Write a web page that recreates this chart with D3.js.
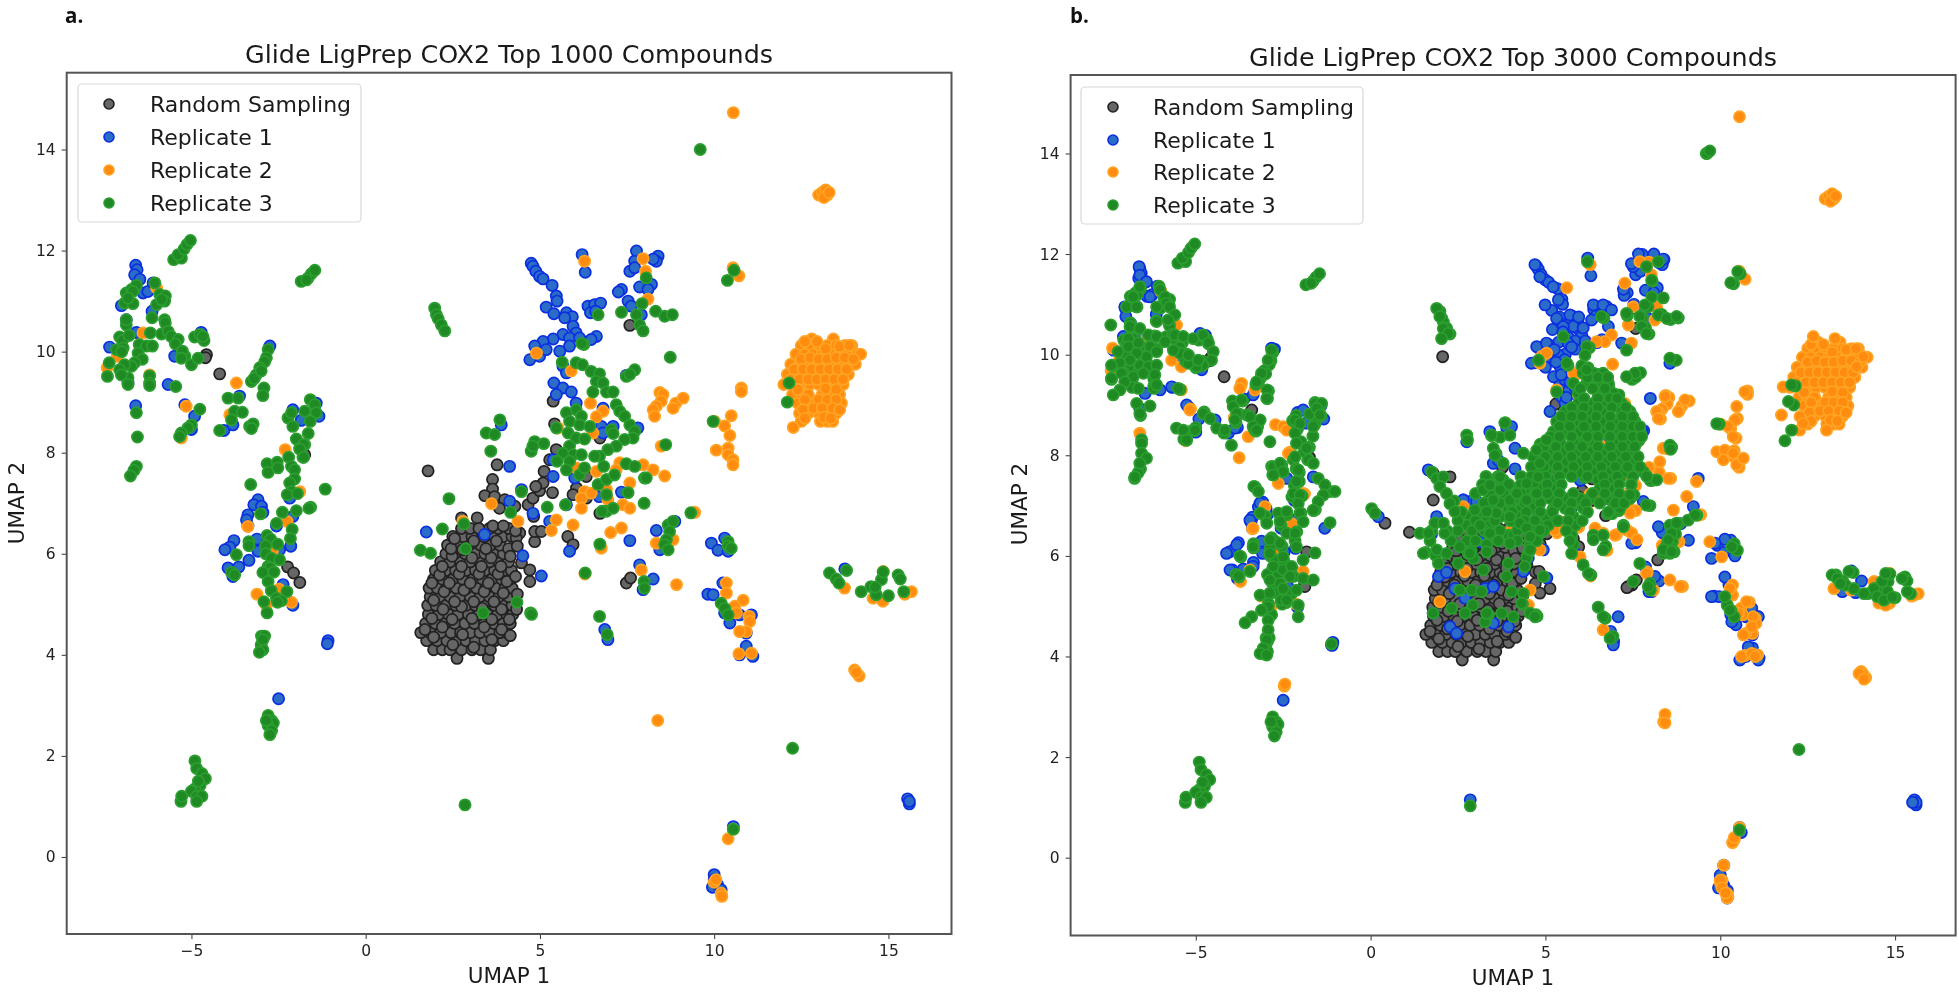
<!DOCTYPE html>
<html><head><meta charset="utf-8">
<script src="https://cdn.jsdelivr.net/npm/d3@7"></script>
<style>html,body{margin:0;background:#fff;overflow:hidden}svg{display:block;filter:blur(.45px)}</style>
</head><body><svg id="c" width="1959" height="996"></svg>
<script>
const seriesNames=["Random Sampling","Replicate 1","Replicate 2","Replicate 3"];
const xTicks=[-5,0,5,10,15];
const yTicks=[0,2,4,6,8,10,12,14];
const titles=["Glide LigPrep COX2 Top 1000 Compounds","Glide LigPrep COX2 Top 3000 Compounds"];
const panelLetters=["a.","b."];

// rows: [umap2, umap1, umap1, ...]
const grayRows=[[3.93,2.62,3.52],[4.1,1.95,2.2,2.42,2.75,3.05,3.3,3.58],[4.28,1.75,2.05,2.33,2.6,2.88,3.15,3.42,3.7,3.95],[4.44,1.58,1.85,2.15,2.45,2.72,3,3.28,3.55,3.85,4.05],[4.62,1.72,2,2.28,2.55,2.85,3.12,3.4,3.68,3.95,4.15],[4.8,1.8,2.1,2.38,2.65,2.95,3.25,3.5,3.78,4.05,4.22],[4.98,1.78,2.02,2.3,2.58,2.88,3.15,3.42,3.7,3.98,4.2],[5.15,1.85,2.12,2.42,2.7,3,3.28,3.55,3.82,4.1],[5.32,1.82,2.05,2.32,2.6,2.9,3.18,3.45,3.75,4,4.2],[5.5,1.95,2.2,2.5,2.78,3.08,3.35,3.62,3.9,4.15],[5.67,2,2.3,2.58,2.88,3.15,3.42,3.7,3.98,4.18],[5.84,2.15,2.42,2.72,3,3.28,3.55,3.82,4.1],[6,2.3,2.55,2.85,3.15,3.42,3.68,3.95],[6.17,2.35,2.65,2.95,3.3,3.58,3.85],[6.34,2.5,2.8,3.05,3.4,3.7,3.95,4.2],[6.5,2.75,3,3.55,3.8,4.1]];
const grayPts=[1.79,7.64,3.77,7.76,3.64,7.47,3.64,7.28,3.42,7.15,3.7,7.13,3.99,7.07,3.84,6.9,4.28,6.94,4.66,6.97,4.8,7.1,4.99,7.25,5.09,7.4,5.12,7.63,4.88,7.33,5.36,7.21,5.28,7.86,5.47,8.06,5.42,8.57,5.38,9.02,4.82,6.74,3.2,6.71,2.75,6.71,4.85,6.24,4.85,6.44,5.04,6.44,4.42,6.41,4.32,6.31,4.47,5.82,4.71,5.68,4.71,5.45,5.8,6.34,5.95,6.18,7.48,5.42,7.6,5.52,7.58,10.52,6.05,7.3,5.95,7.17,6.33,7.53,6.72,6.8,6.33,7.1,6.72,8.29,-2.24,5.74,-2.07,5.62,-1.89,5.43,-4.57,9.94,-4.19,9.56,-4.6,9.88,-1.75,7.96,1.7,4.5,1.95,4.35,2.2,4.55,2.5,4.2,2.78,4.4,3.1,4.15,3.4,4.55,3.62,4.3,3.9,4.5,4.15,4.38,1.9,4.72,2.22,4.9,2.48,4.7,2.75,4.95,3.05,4.72,3.35,4.92,3.62,4.7,3.9,4.9,4.12,4.7,1.95,5.08,2.25,5.25,2.55,5.05,2.82,5.28,3.1,5.05,3.4,5.25,3.68,5.05,3.95,5.22,1.9,5.42,2.12,5.58,2.4,5.42,2.68,5.6,3,5.42,3.25,5.6,3.52,5.42,3.8,5.6,4.05,5.45,2.2,5.75,2.48,5.95,2.75,5.75,3.05,5.92,3.32,5.75,3.6,5.92,3.88,5.75,2.45,6.1,2.78,6.08,3.1,6.25,3.45,6.1,3.75,6.25,4.1,6.1,4.3,6.45,2.55,6.3,3.25,6.5,3.65,6.55,3.95,6.55,4.35,6.15,4.15,5.95,4.3,5.55,4.35,5.2,4.33,4.9];
const grayExtra=[2.06,9.96,0.41,6.65,1.11,6.47,8.21,5.92,7.37,5.39,7.33,5.37,5.13,5.35,4.84,5.26,4.82,5.69,5.3,9.02,2.27,7.57,1.79,7.11,-3.4,8.9,-1.83,6.08,-1.88,5.39];

const bluePts=[4.75,11.75,4.8,11.69,4.88,11.59,4.99,11.49,5.09,11.44,5.35,11.31,5.47,11.1,5.49,11,5.18,10.88,5.4,10.75,5.76,10.77,5.93,10.69,5.71,10.67,5.95,10.5,5.66,10.34,6.04,10.37,5.85,10.27,5.38,10.25,5.09,10.2,4.85,10.11,4.71,9.84,4.99,9.91,5.18,10.04,5.85,10.11,5.57,10.01,6.14,10.27,6.62,10.3,6.47,10.24,6.38,10.9,6.57,10.93,6.74,10.96,6.45,10.77,6.6,10.8,6.21,11.92,6.3,11.57,7.77,11.99,7.72,11.79,7.58,11.59,7.72,11.66,8.39,11.89,8.34,11.79,8.25,11.83,8.2,11.33,7.86,11.28,8.1,11.23,7.34,11.23,7.25,11.18,7.53,11,7.62,10.9,7.91,10.73,5.66,9.71,5.76,9.58,5.4,9.38,5.66,9.28,5.9,9.2,5.47,9.15,6.04,8.98,6.81,8.88,6.76,8.52,7.1,8.52,7.81,8.49,6.81,8.39,5.38,7.86,4.13,7.73,3.89,8.55,4.47,7.27,5.38,7.53,6,7.5,6.7,7.13,7.34,7.22,5.76,6.97,4.13,7.04,4.8,6.8,5.28,6.64,3.41,6.38,1.74,6.43,4.51,5.96,5.04,5.56,5.85,6.05,7.58,6.26,8.34,6.46,8.87,6.64,7.48,9.53,9.92,6.21,10.11,6.07,10.3,6.31,10.4,6.05,7.86,5.78,8.25,5.5,7.96,5.29,8.44,6.08,9.82,5.2,9.97,5.19,10.25,5.42,10.45,4.63,10.73,4.79,11.07,4.79,10.92,4.43,10.3,4.83,10.73,4,11.11,3.97,10.92,4.17,6.86,4.5,6.95,4.3,13.75,5.7,-6.6,11.71,-6.56,11.62,-6.63,11.52,-6.48,11.43,-6.39,11.16,-6.25,11.19,-6.1,11.36,-7.01,10.91,-6.87,10.63,-6.13,10.8,-6.58,10.38,-7.35,10.09,-5.48,9.91,-5.67,9.35,-6.82,9.38,-6.6,8.93,-5.19,8.95,-4.91,8.72,-5,8.46,-4.07,8.44,-3.81,8.55,-3.62,9.12,-4.72,10.38,-2.75,10.11,-2.09,8.85,-1.85,8.64,-1.42,8.98,-1.34,8.72,-3.09,7.07,-2.18,7.1,-3.21,6.97,-2.99,6.94,-3.38,6.77,-3.42,6.67,-3.38,6.55,-2.95,6.82,-3.78,6.26,-3.9,6.13,-4.04,6.08,-3.95,5.72,-3.81,5.55,-3.64,5.74,-3.35,5.87,-3.09,6.05,-3.12,6.29,-2.47,6.08,-2.15,6.15,-2.56,6.55,-2.09,6.74,-2.37,5.39,-2.09,4.98,-1.08,4.28,-1.1,4.22,-2.5,3.13,15.55,1.15,15.6,1.05,15.6,1.1,10,-0.35,9.95,-0.6,10.1,-0.55,10,-0.45,10.2,-0.65,10.55,0.6];
const blueExtra=[4.7,11.79,4.84,11.55,5.22,11.35,5.37,11.09,4.99,10.99,5.32,10.72,5.7,10.79,6.37,10.99,6.65,10.99,6.89,10.89,6.32,10.69,6.8,10.56,5.8,10.56,6.08,10.53,5.51,10.56,5.65,10.23,5.37,9.99,4.75,10.16,5.03,10.23,4.6,9.83,5.42,9.76,5.23,9.56,5.56,9.5,5.56,9.03,5.13,8.87,4.13,8.14,3.51,7.84,2.65,7.11,2.84,7.08,7.75,8.5,7.18,10.23,7.23,11.3,7.51,11.75,7.66,12,8.1,12,8.37,11.9,7.46,11.81,8,9.13,8.56,9.83,9.37,7.54,7.8,7.08,9.23,6.98,8.23,6.58,9.09,6.31,7.47,6.25,8.13,5.59,8.04,5.29,10.13,6.33,10.42,6,9.85,6.25,9.75,5.95,10.13,5.58,9.75,5.19,10.33,4.69,10.9,4.96,11.09,4.79,11.09,3.93,10.56,3.93,10.8,4.19,7.08,4.79,6.94,4.23,1.94,5.59,2.17,5.67,2.41,5.35,2.7,5.16,3.27,5.35,3.51,5.39,1.79,4.86,2.27,4.59,2.46,4.46,3.51,4.66,3.94,4.59,4.37,5.69,2.55,6.18,3.13,6.28,1.89,6.78,2.65,7.11,3.03,7.08,1.65,7.71,3.41,8.47,2.75,8.27,4.03,8.57,3.65,7.9,4.94,6.12,-6.62,11.75,-6.6,11.58,-6.41,11.45,-6.31,11.15,-7.03,10.95,-7,10.76,-7.07,10.36,-4.88,10.42,-4.83,9.7,-6.45,9.23,-6.02,9.3,-5.69,9.36,-5.26,9,-4.45,8.7,-3.88,8.54,-3.36,9.2,-2.83,10.13,-1.93,8.9,-1.31,6.55,-3.16,7.05,-3.45,6.71,-3.83,6.22,-4.12,6.05,-3.36,5.79,-4.02,5.72,-2.4,7.54,-1.64,7.57,-1.12,4.23,2.85,1.15,15.5,1.1,10.1,-0.15,10.2,-0.8,10.6,0.5,14.04,5.5,13.49,5.29,13.87,5.27,0.22,6.78,5.95,10.75,5.2,10.5,5.5,10.45,5.75,10.15,5.25,10.1,5.55,9.9,5,9.75,5.3,9.85,5.7,9.45,5.45,9.6,5.85,9.35,5.6,9.15,6.1,9.1];

const orangeRows=[[10.25,12.8,13.42],[10.12,12.5,12.75,13,13.25,13.5,13.75,13.95],[9.95,12.35,12.6,12.85,13.1,13.35,13.6,13.85,14.1,14.2],[9.75,12.2,12.45,12.7,12.95,13.2,13.45,13.7,13.95,14.05],[9.55,12.1,12.35,12.6,12.85,13.1,13.35,13.6,13.85],[9.35,12,12.25,12.5,12.75,13,13.25,13.5,13.7],[9.15,12.25,12.5,12.7,13.1,13.35,13.6],[8.98,12.4,12.65,12.9,13.15,13.4,13.65],[8.78,12.45,12.7,13,13.25,13.5],[8.62,12.5,13.05,13.25,13.4],[8.5,12.27]];
const orangePts=[-2.31,8.06,-3.38,6.54,-2.26,6.64,-1.89,7.23,-3.12,5.2,-2.49,5.3,-2.13,5.04,-2.85,4.98,-2.68,6.05,-6.39,10.37,-7.13,9.91,-7.42,9.68,-6,11.26,-5.15,8.92,-3.71,9.38,-3.9,8.75,-5.29,8.29,-6.2,9.54,10.55,14.73,13,13.1,13.1,13.15,13.2,13.2,13.25,13.1,13.15,13.05,13.3,13.15,6.28,11.79,7.96,11.84,8.03,11.59,8.1,11.04,10.54,11.66,10.71,11.5,4.9,9.97,5.9,9.62,6.45,8.98,6.81,8.82,6.62,8.71,8.44,9.19,8.53,9.15,8.48,9.02,8.34,8.92,8.25,8.85,8.29,8.72,8.9,8.98,9.11,9.08,8.82,8.88,10.78,9.28,10.78,9.21,10.01,8.62,10.49,8.73,10.3,8.53,10.45,8.34,10.06,8.05,10.4,8.09,10.4,7.96,10.54,7.86,10.54,7.76,8.48,8.13,7.96,7.76,8.25,7.66,8.58,7.54,7.29,7.8,7.19,7.66,6.62,7.63,6.04,7.7,7.58,7.4,6.91,7.27,6.28,7.23,6.47,7.2,6.19,7.1,6.19,6.9,6.95,7.07,7.38,6.97,7.58,6.9,9.44,6.82,5.95,6.57,7.03,6.42,7.34,6.51,5.33,6.46,5.47,6.67,4.37,6.64,3.61,6.99,2.79,6.64,6.76,6.11,8.34,6.21,8.82,6.28,7.91,5.68,8.92,5.39,6.29,5.6,10.35,5.42,10.35,5.22,10.83,5.08,10.59,4.96,10.64,4.83,11,4.76,11.02,4.66,10.92,4.46,10.73,4.46,10.71,4.02,11.07,4.03,14.03,3.7,14.16,3.58,14.08,3.65,6.52,8.39,5.52,8.49,8.38,2.7,10.55,0.55,10.4,0.36,10,-0.5,10.05,-0.45,10.2,-0.72,10.22,-0.78,13.74,5.32,14.85,5.65,14.56,5.12,14.84,5.06,15.66,5.25,15.47,5.2,12.6,10.2,12.95,10.2,13.2,10.05,13.6,10.1,13.88,10.12,12.5,9.85,12.75,9.88,13,9.85,13.25,9.85,13.5,9.88,13.75,9.88,14,9.85,12.3,9.65,12.55,9.65,12.8,9.65,13.05,9.65,13.3,9.65,13.55,9.65,13.8,9.65,12.2,9.45,12.45,9.45,12.7,9.45,12.95,9.45,13.2,9.45,13.45,9.45,13.7,9.45,12.4,9.25,13.2,9.27,13.5,9.25,12.6,9.05,13,9.05,13.25,9.05,13.5,9.05,12.55,8.85,12.85,8.88,13.1,8.88,13.4,8.88,13.6,8.85,12.6,8.68,13.15,8.7,13.35,8.68];
const orangeExtra=[-7.38,10.13,-7.22,9.86,-5.69,9.89,-5.41,9.76,-5.55,10.59,-5.41,9.3,-3.69,9.43,-3.74,9.33,-3.31,9.3,-5.17,8.9,-2.72,8.61,-2.5,8.57,-3.5,8.37,-3.76,7.95,-2.64,7.44,-2.35,8.04,-2.4,8.5,-3.02,6.98,-3.36,6.55,-1.93,7.24,-6.6,8.44,-3.45,5.72,-3.72,5.49,-2.45,5.59,-1.93,5.69,-2.47,3.41,-2.45,3.45,2.65,6.98,2.75,6.78,2.65,6.61,2.7,5.69,1.98,5.09,4.03,6.51,4.56,5.32,4.51,5.02,4.84,6.12,6.42,8.3,6.56,8.2,6.75,8.83,5.61,11.33,7.27,11.42,7.7,11.85,8.18,10.95,8.13,10.69,7.37,10.59,7.51,10.95,5.03,10.03,4.84,9.83,6.89,10.39,6.7,10.26,6.46,10.26,7.46,10.23,6.92,9.81,5.8,9.63,5.32,9.3,5.94,9.2,7.27,9.03,8.42,9.17,8.18,8.87,8.23,8.73,8.8,8.87,8.99,9.1,10.7,9.26,10.47,8.97,10.42,8.7,10.23,8.57,10.37,8.37,9.9,8.07,10.13,8.1,10.37,8.04,10.09,7.91,10.47,7.81,10.66,7.94,8.27,7.87,8.51,7.54,9.32,7.48,9.04,7.18,8.37,8.14,7.47,7.57,7.42,6.85,7.32,7.21,8.66,6.91,9.37,6.81,6.42,6.55,6.65,6.45,6.99,6.41,7.47,6.45,7.62,6.32,8.75,6.32,9.7,6.28,10.04,5.98,7.89,5.65,8.09,5.32,8.56,5.52,8.85,5.39,10.28,5.35,10.75,5.09,10.52,4.86,10.94,4.79,10.9,4.59,10.66,4.43,10.61,4,10.9,4.06,11,4,6.65,4.53,5.99,5.98,5.41,6.61,5.27,6.51,8.42,2.85,8.42,2.68,10.1,-0.15,10,-0.45,10.05,-0.6,10.2,-0.8,10.15,-0.7,10.55,0.6,10.35,0.3,10.4,0.4,12.66,10.36,13.28,10.32,11.8,9.36,11.75,8.8,12.28,8.77,13.04,8.5,12.37,8.63,13.9,9.76,14.09,9.96,13.25,5.35,14.4,5.49,14.54,5.06,14.73,5.02,15.54,5.22,13.97,3.66,14.11,3.55];

const greenPts=[-5.51,11.82,-5.29,11.85,-5.38,11.92,-5.21,12.03,-5.13,12.12,-5.03,12.2,-1.85,11.39,-1.65,11.46,-1.56,11.54,-1.46,11.61,-1.7,11.42,-6.87,11.16,-6.72,11.23,-6.58,11.31,-6.68,11.19,-6.92,10.96,-6.68,10.95,-6.82,11.06,-6.05,11.36,-5.91,11.13,-5.75,11.1,-5.77,11,-6,10.93,-5.86,11.03,-6.13,10.67,-5.77,10.63,-5.75,10.57,-6.87,10.53,-6.87,10.63,-6.18,10.37,-5.86,10.35,-5.67,10.4,-5.58,10.3,-5.38,10.24,-5.46,10.15,-7.06,10.29,-6.98,10.22,-6.79,10.32,-7.15,10.04,-6.96,10.07,-7,10,-6.5,10.14,-6.29,10.11,-6.12,10.11,-6.53,9.97,-6.41,9.85,-6.63,9.78,-6.72,9.71,-6.92,9.74,-7.06,9.64,-7.36,9.78,-7.41,9.51,-6.82,9.48,-6.82,9.35,-7.01,9.54,-6.2,9.52,-6.2,9.38,-6.2,9.33,-5.45,9.31,-5.19,9.91,-5.26,10.01,-5,9.74,-4.81,9.87,-4.91,10.29,-4.76,10.34,-4.64,10.22,-4.67,10.3,-5.29,9.87,-6.58,8.79,-6.55,8.31,-6.58,7.73,-6.65,7.65,-6.75,7.54,-4.76,8.86,-5,8.55,-5.1,8.49,-5.29,8.39,-5.34,8.32,-4.19,8.44,-3.95,9.08,-3.66,9.08,-3.76,8.82,-3.54,8.8,-3.85,8.65,-3.33,8.52,-3.23,8.57,-3.28,8.48,-2.8,10.04,-2.85,9.88,-2.9,9.8,-3.04,9.68,-3.14,9.54,-3.28,9.41,-3.2,9.47,-3,9.62,-2.92,9.28,-2.95,9.13,-2.23,8.69,-2.13,8.79,-2.09,8.52,-1.75,8.82,-1.59,9.05,-1.46,8.95,-1.42,8.79,-1.59,8.62,-1.65,8.38,-1.99,8.27,-1.89,8.09,-1.75,8.16,-1.8,7.91,1.98,10.86,2.03,10.73,2.08,10.65,2.17,10.53,2.27,10.41,6.26,10.14,6.2,10.16,5.64,9.79,6.04,9.78,6.22,9.74,6.47,9.61,6.71,9.56,6.62,9.41,6.81,9.38,6.52,9.2,6.91,9.2,7.1,9.2,7.19,8.95,7.29,8.82,7.43,8.72,7.58,8.55,7.72,8.42,7.67,8.29,7.43,8.26,7.19,8.13,6.95,8.06,6.71,7.93,6.57,7.93,6.83,7.73,7.05,8.45,7.1,8.38,6.04,8.85,5.76,8.79,5.85,8.62,6.19,8.72,6.14,8.55,5.81,8.39,6.04,8.29,6.28,8.27,5.47,8.49,6.43,8.52,5.85,8.13,5.95,7.96,5.66,7.99,5.85,7.83,5.49,7.83,5.76,7.66,6.19,7.96,6.14,7.56,6.28,7.7,6.67,7.37,6.91,7.47,7.14,7.56,7.48,7.78,7.72,7.73,8,7.5,8.05,7.5,8.61,8.16,7.53,7.21,6.91,7.17,7.99,7,6.91,6.84,7.1,6.9,6.78,6.84,5.73,6.97,5.21,6.92,4.47,7.23,3.85,8.65,3.46,8.39,3.7,8.36,3.59,8.03,4.85,8.22,5.11,8.18,4.75,8.03,4.8,8.13,2.39,7.09,4.16,6.82,2.82,6.59,2.2,6.49,1.57,6.07,1.86,6.01,2.87,6.1,3.37,4.83,4.34,5.04,4.73,4.83,4.76,4.8,6.72,6.19,6.3,5.62,6.71,4.76,6.93,4.4,7.99,5.45,8,5.32,8.74,9.89,7.48,9.51,7.72,9.64,7.58,9.55,9.97,8.62,12.15,9.38,12.1,9,9.33,6.81,8.68,6.57,8.82,6.64,8.72,6.44,8.63,6.28,8.58,6.18,8.68,6.08,10.4,6.24,10.4,6.15,10.49,6.11,10.2,5.02,10.3,4.92,10.4,4.79,10.57,11.61,10.38,11.41,8.05,11.46,7.93,10.95,7.34,10.78,7.77,10.73,8.32,10.8,8.58,10.7,8.8,10.73,7.86,10.53,7.96,10.41,6.67,10.73,13.31,5.62,13.5,5.5,13.58,5.42,13.8,5.67,14.22,5.25,14.5,5.35,14.65,5.19,14.8,5.49,14.85,5.64,15,5.17,15.28,5.58,15.34,5.5,15.44,5.25,14.62,5.34,-5.3,1.1,-5.28,1.2,-4.9,1.9,-4.85,1.75,-4.7,1.65,-4.6,1.55,-4.75,1.42,-4.9,1.35,-5,1.3,-4.85,1.2,-4.7,1.2,-4.85,1.1,-4.8,1.5,-2.8,2.8,-2.7,2.7,-2.65,2.65,-2.8,2.6,-2.7,2.5,-2.75,2.42,-2.85,2.7,2.85,1.03,12.25,2.15,9.6,14,10.55,0.55,-1.78,8.16,-1.89,8.07,-1.78,7.91,-2.21,7.91,-2.83,7.78,-2.54,7.81,-2.8,7.61,-2.52,7.7,-2.13,7.73,-2.04,7.66,-2.04,7.48,-2.18,7.4,-2.13,7.23,-2.25,7.17,-1.96,7.19,-3.3,7.37,-1.16,7.28,-1.58,6.92,-1.63,6.9,-1.99,6.85,-2.39,6.82,-3.02,6.79,-2.56,6.6,-2.11,6.48,-2.16,6.3,-2.83,6.36,-2.73,6.29,-2.53,6.19,-3.35,6.24,-3.35,6.16,-3.71,5.98,-2.87,6.16,-2.87,6,-2.71,5.91,-2.47,5.88,-2.8,5.75,-2.74,5.72,-2.95,5.63,-2.63,5.64,-2.8,5.45,-2.71,5.27,-2.26,5.25,-2.56,5.12,-2.42,5.07,-2.53,5.04,-2.92,5.05,-2.83,4.83,-3.85,5.63,-3.76,5.58,-2.99,4.37,-2.9,4.37,-3,4.2,-2.95,4.1,-3.05,4.05,-2.95,4.3];
const greenRows=[[9.63,6.08,6.37,6.65],[9.43,5.8,6.18,6.51,6.8],[9.23,5.94,6.65,6.94],[9.03,5.94,6.37,6.75,7.18],[8.87,5.56,5.94,6.27,6.61,7.18,7.42],[8.67,5.32,5.56,5.85,6.27,6.65,7.04,7.37,7.56],[8.47,5.23,5.56,5.99,6.32,6.75,6.99,7.37,7.7],[8.27,5.08,5.42,5.8,6.13,6.99,7.32,7.61],[8.07,4.8,5.13,5.56,5.94,6.32,6.7,7.08,7.47],[7.87,4.8,5.13,5.61,6.03,6.42,6.75,7.18,7.51],[7.67,4.8,5.03,5.56,5.94,6.42,6.85,7.23,7.8],[7.51,3.79,3.51,4.8,5.27,6.51,6.94,8,8.18],[7.34,3.22,3.56,4.08,4.51,4.84,5.23,6.56,6.85],[7.14,3.51,4.13,4.56,5.13,5.56,5.99,6.27,6.75,7.42],[6.95,3.51,3.94,4.32,4.65,5.56,6.08,6.94,7.13],[6.78,2.84,3.32,3.7,4.22,5.03,5.8],[6.61,2.75,3.41,4.51,4.8,5.08,5.85,7.23],[6.41,3.41,3.94,4.08,4.56,4.8,5.75,6.37,6.65],[6.22,3.32,4.56,5.8,8.47],[6.05,2.79,4.51,5.75,8.37,8.56],[9.55,6.2,6.5,6.78],[9.33,6,6.35,6.7],[9.13,6.1,6.5,6.85,7.05],[8.95,5.75,6.1,6.5,6.9,7.3],[8.77,5.45,5.75,6.05,6.45,6.85,7.2,7.5],[8.57,5.4,5.7,6.1,6.45,6.85,7.2,7.5,7.7],[8.37,5.15,5.4,5.75,6.2,6.5,6.85,7.2,7.5,7.75],[8.17,4.95,5.3,5.7,6.05,6.5,6.85,7.2,7.55],[7.97,4.65,5,5.35,5.75,6.15,6.5,6.9,7.3,7.65],[7.77,4.6,4.95,5.35,5.8,6.2,6.6,7,7.35,7.7],[7.58,3.3,3.65,4.3,4.6,5,5.4,5.75,6.2,6.65,7.05,7.5,7.9],[7.42,3.2,3.95,4.3,4.65,5.05,5.45,6.7,7.1,7.45],[7.24,3,3.4,3.8,4.3,4.7,5.05,5.4,5.8,6.35,6.7,7.1],[7.05,3.25,3.7,4,4.4,4.85,5.35,5.75,6.15,6.55,7,7.25],[6.87,2.6,3.1,3.55,4.05,4.45,4.85,5.2,5.7,6.2,6.8],[6.7,2.5,3,3.55,4,4.4,4.7,5.35,5.65,6.05],[6.5,1.75,2.5,2.9,3.25,3.7,4.2,4.65,4.95,5.6],[6.3,1.7,2.3,2.75,3,3.65,4.2,4.75,5.7]];
const greenExtra=[-6.02,11.29,-5.88,11.15,-5.84,11.02,-5.75,10.95,-5.6,10.79,-5.79,10.69,-6.12,10.95,-6.12,10.66,-6.6,11.35,-6.79,11.15,-6.98,10.95,-6.69,10.95,-7.43,10.59,-6.88,10.56,-6.6,10.52,-6.93,10.32,-7.22,10.06,-6.93,10.16,-6.64,10.23,-6.36,10.39,-6.12,10.36,-5.88,10.26,-5.6,10.39,-5.36,10.36,-5.07,10.32,-4.79,10.39,-4.64,10.23,-4.5,10.06,-4.55,9.89,-4.79,9.79,-4.98,9.76,-5.21,9.83,-5.45,10.03,-5.64,10.09,-5.21,9.99,-4.93,9.89,-6.31,10.16,-6.12,10.06,-6.41,9.96,-6.69,10.03,-6.88,9.89,-7.17,9.83,-6.6,9.79,-6.36,9.76,-6.12,9.79,-7.41,9.79,-7.12,9.63,-6.79,9.56,-6.5,9.63,-6.17,9.6,-7.41,9.53,-7.03,9.46,-6.64,9.33,-6.12,9.4,-7.17,9.3,-7.36,9.2,-5.5,9.33,-6.69,9.03,-6.31,8.98,-6.6,8.83,-6.55,8.24,-6.55,8.04,-6.41,7.94,-6.6,7.84,-6.74,7.57,-5.55,8.54,-5.36,8.5,-5.26,8.3,-5.02,8.5,-4.79,8.83,-4.59,8.73,-4.4,8.54,-4.17,8.5,-3.93,8.97,-3.69,9.1,-3.83,8.83,-3.88,8.7,-3.45,8.77,-3.16,8.7,-3.36,8.57,-3.26,8.5,-3.98,8.2,-2.88,8.27,-2.83,10.09,-2.93,9.89,-3.12,9.63,-3.26,9.46,-2.96,9.3,-2.97,9.13,-2.16,8.7,-2.02,8.63,-1.59,9.03,-1.4,9.03,-1.54,8.93,-1.45,8.8,-1.64,8.57,-2.16,8.44,-2.12,8.24,-1.83,8.14,-2.16,7.97,-1.64,7.84,-2.07,7.71,-1.5,7.54,-1.31,7.41,-1.02,7.28,-1.35,7.21,-1.5,7.08,-1.64,6.91,-2.78,7.77,-2.59,7.84,-2.5,7.67,-2.78,7.61,-3.34,7.38,-3.21,7.28,-2.21,7.24,-2.02,7.21,-2.12,7.48,-2.07,7.04,-2.02,6.85,-1.93,6.68,-1.16,6.66,-3.16,6.85,-2.97,6.65,-2.64,6.85,-2.4,6.88,-2.59,6.68,-2.4,6.45,-2.16,6.45,-2.12,6.18,-2.88,6.32,-2.59,6.25,-3.36,6.18,-3.74,6,-1.59,6.06,-1.93,5.92,-2.88,6.05,-2.5,5.98,-2.78,5.79,-2.5,5.72,-2.26,5.79,-2.88,5.52,-2.59,5.45,-2.21,5.59,-1.93,5.55,-1.64,5.52,-3.78,5.6,-3.45,5.69,-3.16,5.22,-2.88,5.26,-2.5,5.35,-2.12,5.32,-2.93,4.99,-2.55,5.12,-2.07,5.02,-2.07,4.79,-3.12,4.92,-3.4,4.79,-3.59,4.67,-2.93,4.72,-2.93,4.53,-2.97,4.33,-3.07,4.16,-3.16,4.06,-2.97,4.03,-1.12,4.25,-2.31,5.59,-2.4,5.12,1.89,10.92,1.98,10.76,2.08,10.52,2.22,10.42,2.03,10.32,0.03,6.94,0.12,6.85,1.41,6.45,1.65,6.45,1.51,6.05,1.89,6.12,1.94,5.85,1.84,6.65,2.12,6.45,2.17,6.05,1.75,7.67,1.89,7.54,2.08,7.57,1.98,7.38,2.17,7.24,2.27,7.04,2.41,6.88,2.08,6.65,1.79,4.86,2.55,5.32,2.89,5.32,3.17,5.29,2.32,4.96,2.92,5.02,2.7,4.86,3.27,4.69,3.32,4.86,3.75,4.86,4.08,4.79,4.37,5.25,4.03,5.29,4.32,5.06,4.56,4.86,4.7,4.79,4.94,5.59,4.46,5.95,4.56,6.12,4.41,5.79,3.94,5.85,3.89,5.59,3.22,5.72,2.94,5.95,2.51,5.85,2.84,6.05,3.32,6.08,2.55,6.18,3.41,6.45,3.13,6.61,2.98,6.91,3.6,6.85,3.98,6.78,4.27,6.65,4.46,6.55,4.84,6.51,4.56,6.38,3.98,6.25,3.22,7.31,3.41,7.41,3.7,7.31,3.7,7.57,3.51,7.11,3.98,7.11,3.32,6.88,3.79,7.84,4.18,7.24,4.46,7.11,4.75,7.24,4.46,7.44,4.79,7.57,4.84,7.84,4.75,8.1,5.03,8.3,4.37,8.04,2.75,8.4,2.77,8.3,3.46,8.4,3.84,8.64,3.98,8.4,3.51,8.14,3.56,8,6.18,10.16,6.13,9.99,6.18,9.7,6.6,10.76,5.51,10.36,5.61,9.83,4.8,9.89,5.32,9.26,7.23,6.58,7.89,7.01,7.42,7.21,6.37,6.32,6.65,6.12,6.08,5.82,6.23,5.65,7.7,5.85,7.51,5.49,7.94,5.39,6.51,4.98,6.65,4.79,6.85,4.36,10.13,5.19,10.28,4.92,8.56,8.2,8.58,8.12,9.9,8.63,8.56,9.93,7.56,9.63,7.32,9.56,8.37,11.13,7.89,11.75,8.23,11.85,8.04,11.48,8.04,11.15,7.85,10.99,7.32,10.82,8.23,10.79,8.47,10.72,8.75,10.76,7.7,10.76,7.75,10.56,7.89,10.42,7.32,10.09,6.2,11.85,8.56,6.61,8.75,6.65,8.61,6.45,8.51,6.32,8.37,6.12,8.61,6.08,9.08,6.71,9.28,6.81,10.33,6.18,12.04,9.4,11.95,9.07,12.04,8.5,11.85,8.29,10.5,11.65,10.3,11.43,13.2,5.62,13.35,5.55,13.68,5.69,13.44,5.45,13.82,5.35,14.11,5.25,14.4,5.35,14.49,5.19,14.78,5.29,14.68,5.12,14.92,5.18,14.63,5.49,14.73,5.65,15.2,5.55,15.35,5.29,9.62,14,9.7,14.05];

const fromPairs=a=>d3.range(0,a.length,2).map(i=>[a[i],a[i+1]]);
const fromRows=r=>r.flatMap(([y,...xs])=>xs.map(x=>[x,y]));

const grayA=[...fromRows(grayRows),...fromPairs(grayPts)];
const blueA=fromPairs(bluePts);
const orangeA=[...fromRows(orangeRows),...fromPairs(orangePts)];
const greenA=fromPairs(greenPts);
const panelData=[
  [grayA,blueA,orangeA,greenA],
  [[...grayA,...fromPairs(grayExtra)],[...blueA,...fromPairs(blueExtra)],[...orangeA,...fromPairs(orangeExtra)],[...greenA,...fromRows(greenRows),...fromPairs(greenExtra)]]
];
const fills=["#666666","#2a6cc8","#ff8c0e","#1f8a24"];
const edges=["#222222","#0b2fe0","#ffa424","#2c9e30"];

const layouts=[
 {L:66.7,R:951.5,T:72.7,B:934,xd:[-8.58,16.81],yd:[-1.525,15.52],titleY:63,titleX:509,labX:509,labY:983,ylX:24,ylY:503,letterX:65,
  leg:{x:78,y:84,w:283,h:138,mx:109,tx:150,ys:[104,137,170,203]}},
 {L:1070.6,R:1955.6,T:75,B:935.5,xd:[-8.58,16.73],yd:[-1.547,15.56],titleY:65.5,titleX:1513,labX:1513,labY:985,ylX:1027,ylY:504,letterX:1070,
  leg:{x:1081,y:87,w:282,h:137,mx:1113,tx:1153,ys:[107,140,172,205]}}
];
const svg=d3.select("#c");
const FONT="'DejaVu Sans',sans-serif";
layouts.forEach((p,k)=>{
  const x=d3.scaleLinear().domain(p.xd).range([p.L,p.R]);
  const y=d3.scaleLinear().domain(p.yd).range([p.B,p.T]);
  const g=svg.append("g");
  panelData[k].forEach((pts,s)=>{
    g.append("g").selectAll("circle").data(pts).join("circle")
     .attr("cx",d=>x(d[0])).attr("cy",d=>y(d[1])).attr("r",5.6)
     .attr("fill",fills[s]).attr("stroke",edges[s]).attr("stroke-width",1.7);
  });
  const ax=svg.append("g").attr("transform",`translate(0,${p.B})`)
    .call(d3.axisBottom(x).tickValues(xTicks).tickFormat(d=>String(d).replace("-","\u2212")).tickSize(5).tickPadding(6));
  const ay=svg.append("g").attr("transform",`translate(${p.L},0)`)
    .call(d3.axisLeft(y).tickValues(yTicks).tickSize(5).tickPadding(6));
  [ax,ay].forEach(a=>{a.select(".domain").remove();
    a.selectAll("line").attr("stroke","#333");
    a.selectAll("text").attr("fill","#222").attr("font-family",FONT).attr("font-size",15.5);});
  svg.append("rect").attr("x",p.L).attr("y",p.T).attr("width",p.R-p.L).attr("height",p.B-p.T)
    .attr("fill","none").attr("stroke","#555").attr("stroke-width",2);
  svg.append("text").text(titles[k]).attr("x",p.titleX).attr("y",p.titleY).attr("text-anchor","middle")
    .attr("font-family",FONT).attr("font-size",25.4).attr("fill","#1a1a1a");
  svg.append("text").text("UMAP 1").attr("x",p.labX).attr("y",p.labY).attr("text-anchor","middle")
    .attr("font-family",FONT).attr("font-size",21.5).attr("fill","#1a1a1a");
  svg.append("text").text("UMAP 2").attr("transform",`translate(${p.ylX},${p.ylY}) rotate(-90)`).attr("text-anchor","middle")
    .attr("font-family",FONT).attr("font-size",21.5).attr("fill","#1a1a1a");
  svg.append("text").text(panelLetters[k]).attr("x",p.letterX).attr("y",23)
    .attr("font-family","'Open Sans',sans-serif").attr("font-weight",700).attr("font-size",20.5).attr("fill","#111");
  const L=p.leg;
  svg.append("rect").attr("x",L.x).attr("y",L.y).attr("width",L.w).attr("height",L.h).attr("rx",4)
    .attr("fill","#fff").attr("fill-opacity",.85).attr("stroke","#d8d8d8").attr("stroke-width",1.2);
  seriesNames.forEach((n,s)=>{
    svg.append("circle").attr("cx",L.mx).attr("cy",L.ys[s]).attr("r",5)
      .attr("fill",fills[s]).attr("stroke",edges[s]).attr("stroke-width",1.6);
    svg.append("text").text(n).attr("x",L.tx).attr("y",L.ys[s]+7.5)
      .attr("font-family",FONT).attr("font-size",22).attr("fill","#1a1a1a");
  });
});
</script></body></html>
